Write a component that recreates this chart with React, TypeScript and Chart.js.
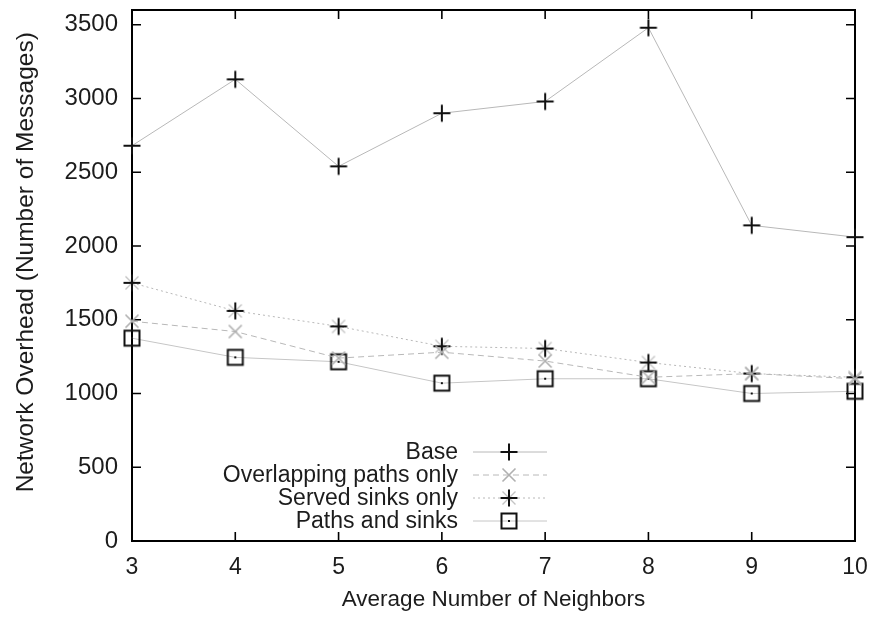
import React, { useEffect, useRef } from "react";
import { Chart, registerables } from "chart.js";

Chart.register(...registerables);

// ---- data ----
const neighbors = [3, 4, 5, 6, 7, 8, 9, 10];
const baseValues = [2680, 3130, 2540, 2900, 2980, 3480, 2140, 2060];
const overlappingValues = [1490, 1420, 1240, 1280, 1220, 1110, 1135, 1100];
const servedValues = [1750, 1560, 1455, 1320, 1305, 1210, 1135, 1110];
const pathsSinksValues = [1375, 1245, 1215, 1070, 1100, 1100, 1000, 1015];
const seriesLabels = ["Base", "Overlapping paths only", "Served sinks only", "Paths and sinks"];
const xTickValues = [3, 4, 5, 6, 7, 8, 9, 10];
const yTickValues = [0, 500, 1000, 1500, 2000, 2500, 3000, 3500];
const xTitle = "Average Number of Neighbors";
const yTitle = "Network Overhead (Number of Messages)";

const FONT = "'Liberation Sans', Arial, Helvetica, sans-serif";
const TEXT = "#1c1c1c";
const LINE = "#b8b8b8";
const MARK = "#111111";
const MARK_GREY = "#b0b0b0";

type Kind = "plus" | "x" | "star" | "square";

function makeMarker(kind: Kind): HTMLCanvasElement {
  const s = 22;
  const c = document.createElement("canvas");
  c.width = s;
  c.height = s;
  const g = c.getContext("2d")!;
  const m = s / 2;
  const plus = (color: string, r: number, w: number) => {
    g.strokeStyle = color;
    g.lineWidth = w;
    g.beginPath();
    g.moveTo(m - r, m);
    g.lineTo(m + r, m);
    g.moveTo(m, m - r);
    g.lineTo(m, m + r);
    g.stroke();
  };
  const cross = (color: string, r: number, w: number) => {
    g.strokeStyle = color;
    g.lineWidth = w;
    g.beginPath();
    g.moveTo(m - r, m - r);
    g.lineTo(m + r, m + r);
    g.moveTo(m + r, m - r);
    g.lineTo(m - r, m + r);
    g.stroke();
  };
  if (kind === "plus") plus(MARK, 8.5, 2);
  if (kind === "x") cross(MARK_GREY, 6.5, 1.6);
  if (kind === "star") {
    cross("#c4c4c4", 6.5, 1.4);
    plus(MARK, 8.5, 2);
  }
  if (kind === "square") {
    g.strokeStyle = MARK;
    g.lineWidth = 2;
    g.strokeRect(m - 7.5, m - 7.5, 15, 15);
    g.fillStyle = MARK;
    g.fillRect(m - 1, m - 1, 2, 2);
  }
  return c;
}

export default function App() {
  const ref = useRef<HTMLCanvasElement>(null);

  useEffect(() => {
    const markers = [makeMarker("plus"), makeMarker("x"), makeMarker("star"), makeMarker("square")];
    const dashes: number[][] = [[], [6, 4], [2, 3], []];
    const colors = [LINE, LINE, LINE, "#c6c6c6"];
    const values = [baseValues, overlappingValues, servedValues, pathsSinksValues];

    const framePlugin = {
      id: "frame",
      beforeDatasetsDraw(chart: any) {
        const { ctx, chartArea: a, scales } = chart;
        ctx.save();
        ctx.strokeStyle = "#000";
        ctx.lineWidth = 2;
        ctx.strokeRect(a.left, a.top, a.right - a.left, a.bottom - a.top);
        const tl = 9;
        ctx.lineWidth = 1.6;
        ctx.beginPath();
        xTickValues.forEach((v) => {
          const px = scales.x.getPixelForValue(v);
          ctx.moveTo(px, a.bottom);
          ctx.lineTo(px, a.bottom - tl);
          ctx.moveTo(px, a.top);
          ctx.lineTo(px, a.top + tl);
        });
        yTickValues.forEach((v) => {
          const py = scales.y.getPixelForValue(v);
          ctx.moveTo(a.left, py);
          ctx.lineTo(a.left + tl, py);
          ctx.moveTo(a.right, py);
          ctx.lineTo(a.right - tl, py);
        });
        ctx.stroke();

        // y-axis title
        ctx.save();
        ctx.translate(26, a.top + (a.bottom - a.top) * 0.475);
        ctx.rotate(-Math.PI / 2);
        ctx.font = `24.5px ${FONT}`;
        ctx.fillStyle = TEXT;
        ctx.textAlign = "center";
        ctx.textBaseline = "middle";
        ctx.fillText(yTitle, 0, 0);
        ctx.restore();
        ctx.restore();
      },
      afterDatasetsDraw(chart: any) {
        const { ctx, chartArea: a } = chart;
        ctx.save();
        const textRight = a.left + 326;
        const lineStart = a.left + 341;
        const lineEnd = a.left + 415;
        const markX = a.left + 377;
        const rowY0 = a.bottom - 89;
        const rowStep = 23;
        ctx.font = `23px ${FONT}`;
        ctx.textAlign = "right";
        ctx.textBaseline = "middle";
        seriesLabels.forEach((label, i) => {
          const y = rowY0 + i * rowStep;
          ctx.fillStyle = TEXT;
          ctx.fillText(label, textRight, y + 1);
          ctx.strokeStyle = colors[i];
          ctx.lineWidth = 1;
          ctx.setLineDash(dashes[i]);
          ctx.beginPath();
          ctx.moveTo(lineStart, y);
          ctx.lineTo(lineEnd, y);
          ctx.stroke();
          ctx.setLineDash([]);
          const mk = markers[i];
          ctx.drawImage(mk, markX - mk.width / 2, y - mk.height / 2);
        });
        ctx.restore();
      },
    };

    const chart = new Chart(ref.current!, {
      type: "line",
      data: {
        datasets: seriesLabels.map((label, i) => ({
          label,
          data: neighbors.map((x, j) => ({ x, y: values[i][j] })),
          borderColor: colors[i],
          borderWidth: 1,
          borderDash: dashes[i],
          pointStyle: markers[i] as any,
          pointRadius: 9,
          pointHoverRadius: 9,
          fill: false,
          tension: 0,
          clip: false as any,
        })),
      },
      options: {
        animation: false,
        responsive: false,
        events: [],
        layout: { padding: { top: 8, right: 18, left: 0, bottom: 0 } },
        plugins: { legend: { display: false }, tooltip: { enabled: false } },
        scales: {
          x: {
            type: "linear",
            min: 3,
            max: 10,
            afterBuildTicks: (s: any) => {
              s.ticks = xTickValues.map((v) => ({ value: v }));
            },
            afterFit: (s: any) => {
              s.height = 76;
              s.paddingLeft = 0;
              s.paddingRight = 0;
            },
            grid: { display: false, drawTicks: false },
            border: { display: false },
            ticks: {
              font: { family: FONT, size: 23 },
              color: TEXT,
              padding: 13,
              maxRotation: 0,
              autoSkip: false,
              callback: (v: any) => String(v),
            },
            title: {
              display: true,
              text: xTitle,
              font: { family: FONT, size: 22.5 },
              color: TEXT,
              padding: { top: 4, bottom: 4 },
            },
          },
          y: {
            type: "linear",
            min: 0,
            max: 3600,
            afterBuildTicks: (s: any) => {
              s.ticks = yTickValues.map((v) => ({ value: v }));
            },
            afterFit: (s: any) => {
              s.width = 132;
              s.paddingTop = 0;
              s.paddingBottom = 0;
            },
            grid: { display: false, drawTicks: false },
            border: { display: false },
            ticks: {
              font: { family: FONT, size: 24 },
              color: TEXT,
              padding: 14,
              callback: (v: any) => String(v),
            },
            title: { display: false },
          },
        },
      },
      plugins: [framePlugin],
    });
    return () => chart.destroy();
  }, []);

  return (
    <div style={{ position: "absolute", left: 0, top: 0, width: 873, height: 617, background: "#fff" }}>
      <canvas ref={ref} width={873} height={617} style={{ display: "block" }} />
    </div>
  );
}
